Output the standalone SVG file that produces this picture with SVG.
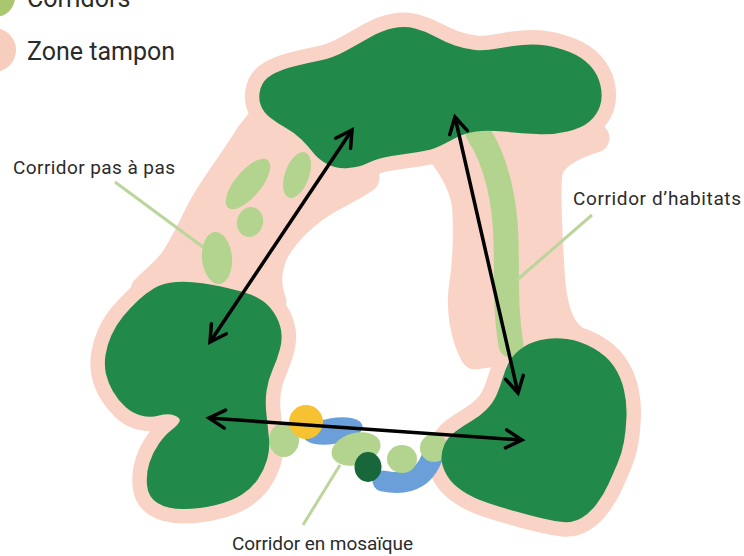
<svg xmlns="http://www.w3.org/2000/svg" xmlns:xlink="http://www.w3.org/1999/xlink" width="744" height="556" viewBox="0 0 744 556">
<style>
.txt{font-family:Roboto,"Liberation Sans",sans-serif;fill:#2b2b2b}
.pink{fill:#f9d3c5;stroke:#f9d3c5;stroke-width:29;stroke-linejoin:round}
.res{fill:#21894a}
.lg{fill:#b2d48e}
.blue{fill:#6b9fd9}
.leader{stroke:#bcd59c;stroke-width:3;fill:none}
.arrow{stroke:#000;stroke-width:3.5;fill:none;marker-start:url(#ah);marker-end:url(#ah)}
</style>
<defs>
<marker id="ah" markerUnits="userSpaceOnUse" viewBox="-20 -12 24 24" markerWidth="24" markerHeight="24" refX="0" refY="0" orient="auto-start-reverse" overflow="visible">
<path d="M -16,-9 L 0,0 L -16,9" fill="none" stroke="#000" stroke-width="3.5" stroke-linecap="round" stroke-linejoin="miter"/>
</marker>
<path id="pTop" d="M 260.5,88.5 Q 263,80 271.5,75 Q 280,70 293.5,66.5 Q 307,63 320,60.5 Q 333,58 346.5,50.5 Q 360,43 371.5,36.5 Q 383,30 394,28 Q 405,26 415,28.5 Q 425,31 435,36.5 Q 445,42 455,45.5 Q 465,49 475,50 Q 485,51 497.5,48.5 Q 510,46 522.5,45 Q 535,44 546,45.5 Q 557,47 569.5,52 Q 582,57 590,65.5 Q 598,74 600.5,85.5 Q 603,97 600,106 Q 597,115 589.5,121.5 Q 582,128 567.5,131.5 Q 553,135 536.5,134 Q 520,133 503.5,131.5 Q 487,130 476,131.5 Q 465,133 457.5,137 Q 450,141 441,145.5 Q 432,150 418.5,152 Q 405,154 391.5,156 Q 378,158 369,162.5 Q 360,167 348.5,168 Q 337,169 328,164.5 Q 319,160 313.5,153 Q 308,146 301.5,139.5 Q 295,133 286,128 Q 277,123 270,117.5 Q 263,112 260.5,104.5 Q 258,97 260.5,88.5 Z"/>
<path id="pLeft" d="M 176.5,282 Q 190,281 210,284.5 Q 230,288 246,293 Q 262,298 270,307.5 Q 278,317 280.5,327.5 Q 283,338 280,349 Q 277,360 272.5,370 Q 268,380 266.5,391 Q 265,402 266.5,415 Q 268,428 269,439 Q 270,450 267,460 Q 264,470 258,479 Q 252,488 242,494.5 Q 232,501 216,505 Q 200,509 183.5,509 Q 167,509 157.5,503 Q 148,497 147,485 Q 146,473 149.5,462.5 Q 153,452 159,443.5 Q 165,435 171.5,430 Q 178,425 179.5,421.5 Q 181,418 174.5,415.5 Q 168,413 159,415.5 Q 150,418 141,415.5 Q 132,413 125,406.5 Q 118,400 113,391.5 Q 108,383 106,374 Q 104,365 105.5,355 Q 107,345 111.5,335 Q 116,325 123,316.5 Q 130,308 138,300.5 Q 146,293 154.5,288 Q 163,283 176.5,282 Z"/>
<path id="pRight" d="M 540.5,340 Q 553,337 567,339 Q 581,341 594,348.5 Q 607,356 614,366.5 Q 621,377 624,390 Q 627,403 626.5,416.5 Q 626,430 624,441.5 Q 622,453 617.5,463.5 Q 613,474 608.5,484 Q 604,494 597,503.5 Q 590,513 581.5,518 Q 573,523 563,522 Q 553,521 543,518.5 Q 533,516 518,512 Q 503,508 488,503 Q 473,498 462.5,491 Q 452,484 447,475.5 Q 442,467 441.5,459.5 Q 441,452 444.5,444.5 Q 448,437 455.5,431.5 Q 463,426 471.5,421 Q 480,416 486.5,409.5 Q 493,403 496.5,395 Q 500,387 502.5,378.5 Q 505,370 508.5,363 Q 512,356 520,349.5 Q 528,343 540.5,340 Z"/>
</defs>

<g id="legend">
<circle cx="-5" cy="-3" r="20" fill="#a9c76e"/>
<circle cx="-6" cy="50" r="22" fill="#f7cdbd"/>
<text class="txt" x="27" y="7" font-size="25">Corridors</text>
<text class="txt" x="27" y="60" font-size="25">Zone tampon</text>
</g>

<g id="zone-tampon">
<use xlink:href="#pTop" class="pink"/>
<use xlink:href="#pLeft" class="pink"/>
<use xlink:href="#pRight" class="pink"/>
<path class="pink" stroke-width="0" d="M 262,120 L 250,135 C 235,160 215,185 203,207 C 193,225 185,245 173,262 C 165,272 155,280 145,290 L 272,302 C 266,285 266,270 274,252 C 285,232 305,212 330,198 C 345,190 355,185 365,178 L 330,150 Z"/>
<path class="pink" stroke-width="0" d="M 440,150 C 455,170 467,190 467,215 C 468,240 467,265 463,290 C 461,310 464,335 475,355 L 575,340 C 560,330 552,310 550,270 C 548,230 545,195 548,172 C 551,158 568,146 595,138 Z"/>
</g>

<g id="corridor-pas-a-pas">
<ellipse class="lg" cx="248" cy="184" rx="31" ry="13" transform="rotate(-50 248 184)"/>
<ellipse class="lg" cx="297" cy="175" rx="12" ry="24" transform="rotate(20 297 175)"/>
<ellipse class="lg" cx="250" cy="222" rx="13" ry="15" transform="rotate(15 250 222)"/>
<ellipse class="lg" cx="217" cy="258" rx="15" ry="26" transform="rotate(-5 217 258)"/>
</g>

<g id="corridor-habitats">
<path d="M 478,133 C 496,160 505,200 506,240 C 507,280 505,310 511,345" fill="none" stroke="#b2d48e" stroke-width="25" stroke-linecap="round"/>
</g>

<g id="corridor-mosaique">
<ellipse class="lg" cx="284" cy="440" rx="15" ry="17"/>
<ellipse class="blue" cx="333" cy="431" rx="30" ry="13" transform="rotate(-10 333 431)"/>
<circle cx="306" cy="422" r="17" fill="#f6c231"/>
<path d="M 383,481 Q 425,490 435,448" fill="none" stroke="#6b9fd9" stroke-width="21" stroke-linecap="round"/>
<ellipse class="lg" cx="356" cy="449" rx="25" ry="16" transform="rotate(-15 356 449)"/>
<ellipse cx="368" cy="467" rx="13.5" ry="15" fill="#17673a"/>
<ellipse class="lg" cx="402" cy="459" rx="15" ry="14"/>
<circle class="lg" cx="434" cy="448" r="14"/>
</g>

<g id="reservoir-top"><use xlink:href="#pTop" class="res"/></g>
<g id="reservoir-left"><use xlink:href="#pLeft" class="res"/></g>
<g id="reservoir-right"><use xlink:href="#pRight" class="res"/></g>

<g id="labels">
<line class="leader" x1="115" y1="182" x2="203" y2="247"/>
<text class="txt" x="13" y="174" font-size="19" textLength="162">Corridor pas à pas</text>
<line class="leader" x1="517" y1="280" x2="592" y2="215"/>
<text class="txt" x="573" y="205" font-size="19" textLength="168">Corridor d’habitats</text>
<line class="leader" x1="340" y1="465" x2="303" y2="525"/>
<text class="txt" x="232" y="550" font-size="19" textLength="181">Corridor en mosaïque</text>
</g>

<g id="connectors">
<line class="arrow" x1="352" y1="130" x2="210" y2="342"/>
<line class="arrow" x1="455" y1="117" x2="518" y2="393"/>
<line class="arrow" x1="522" y1="440" x2="209" y2="418"/>
</g>
</svg>
